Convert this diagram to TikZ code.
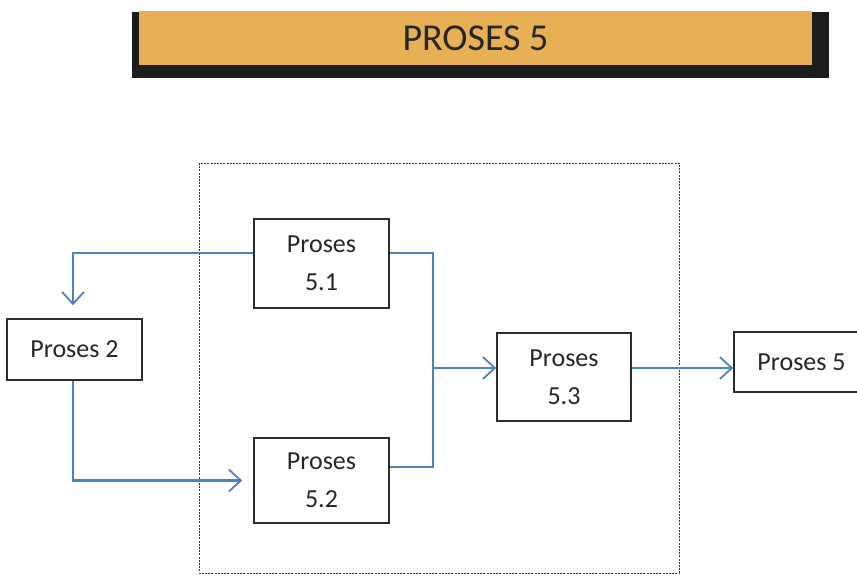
\documentclass[tikz,border=0pt]{standalone}
\usepackage{fontspec}
\setmainfont{Carlito}
\usetikzlibrary{arrows.meta}
\definecolor{gold}{RGB}{232,176,84}
\definecolor{shadow}{RGB}{28,28,28}
\definecolor{flow}{RGB}{79,129,189}
\definecolor{boxline}{RGB}{45,45,45}
\begin{document}
\begin{tikzpicture}[x=1pt,y=-1pt,
  procbox/.style={draw=boxline,line width=1.6pt,minimum width=135pt,inner sep=0pt,align=center,
    text=black!85,font=\fontsize{26}{38}\selectfont},
  flowline/.style={draw=flow,line width=2.2pt},
  arr/.style={flowline,-{Straight Barb[length=12pt,width=22pt,line width=1.8pt]}},
  frame/.style={draw=black!80,line width=1pt,dash pattern=on 2pt off 1.2pt}]
\useasboundingbox (0,0) rectangle (857,576);
% title bar
\fill[shadow] (132,12) rectangle (829,78);
\fill[gold] (139,11) rectangle (812,65);
\node[text=black!85] (title) at (475.5,38) {\fontsize{38}{42}\selectfont PROSES 5};
% dotted frame
\draw[frame] (199,163) rectangle (679,573);
% boxes
\node[procbox,minimum height=89pt] (p51) at (321.5,263.5) {Proses\\5.1};
\node[procbox,minimum height=85pt] (p52) at (321.5,480.5) {Proses\\5.2};
\node[procbox,minimum height=88pt,minimum width=134pt] (p53) at (564,377) {Proses\\5.3};
\node[procbox,minimum height=61pt] (p2) at (74.5,349.5) {Proses 2};
\node[procbox,minimum height=60pt] (p5) at (801.5,362) {Proses 5};
% connectors
\coordinate (j) at (433,368);
\draw[arr] ([yshift=10.5pt]p51.west) -| ([xshift=-1.5pt,yshift=13pt]p2.north);
\draw[arr] ([xshift=-1.5pt]p2.south) |- ([xshift=-11pt]p52.west);
\draw[flowline] ([yshift=10.5pt]p51.east) -| (j);
\draw[flowline] ([yshift=13.5pt]p52.east) -| (j);
\draw[arr] (j) -- (j -| p53.west);
\draw[arr] (j -| p53.east) -- (j -| p5.west);
\end{tikzpicture}
\end{document}
